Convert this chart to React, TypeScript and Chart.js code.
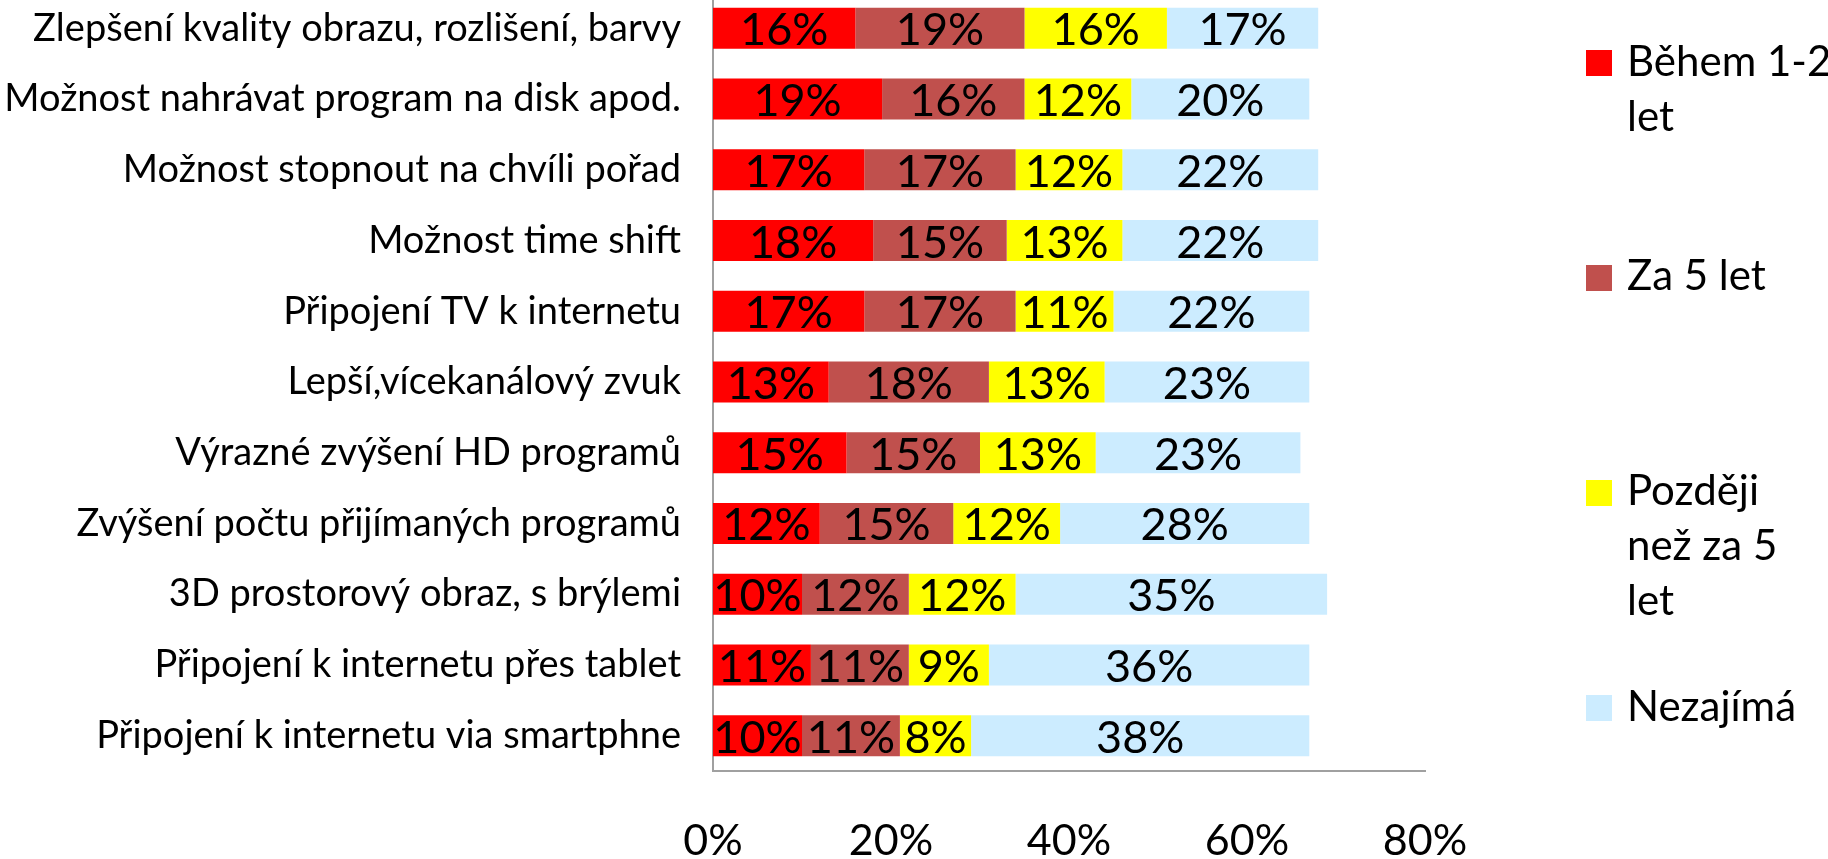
import React, { useEffect, useRef } from "react";
import { Chart, registerables } from "chart.js";

Chart.register(...registerables);

const categories = [
  "Zlepšení kvality obrazu, rozlišení, barvy",
  "Možnost nahrávat program na disk apod.",
  "Možnost stopnout na chvíli pořad",
  "Možnost time shift",
  "Připojení TV k internetu",
  "Lepší,vícekanálový zvuk",
  "Výrazné zvýšení HD programů",
  "Zvýšení počtu přijímaných programů",
  "3D prostorový obraz, s brýlemi",
  "Připojení k internetu přes tablet",
  "Připojení k internetu via smartphne",
];

const seriesNames = ["Během 1-2 let", "Za 5 let", "Později než za 5 let", "Nezajímá"];
const legendLines = [["Během 1-2", "let"], ["Za 5 let"], ["Později", "než za 5", "let"], ["Nezajímá"]];

const within12 = [16, 19, 17, 18, 17, 13, 15, 12, 10, 11, 10];
const in5 = [19, 16, 17, 15, 17, 18, 15, 15, 12, 11, 11];
const later = [16, 12, 12, 13, 11, 13, 13, 12, 12, 9, 8];
const notInterested = [17, 20, 22, 22, 22, 23, 23, 28, 35, 36, 38];

const seriesColors = ["#FF0000", "#C0504D", "#FFFF00", "#CCECFF"];
const xTicks = [0, 20, 40, 60, 80];

const FONT = "Lato, 'Open Sans', sans-serif";

const barLabels = {
  id: "barLabels",
  afterDatasetsDraw(chart: any) {
    const ctx = chart.ctx;
    ctx.save();
    ctx.font = `45px ${FONT}`;
    ctx.fillStyle = "#000000";
    ctx.textAlign = "center";
    ctx.textBaseline = "alphabetic";
    chart.data.datasets.forEach((ds: any, di: number) => {
      const meta = chart.getDatasetMeta(di);
      meta.data.forEach((el: any, i: number) => {
        const p = el.getProps(["x", "y", "base"], true);
        ctx.fillText(ds.data[i] + "%", (p.x + p.base) / 2, p.y + 17);
      });
    });
    ctx.restore();
  },
};

export default function App() {
  const ref = useRef<HTMLCanvasElement>(null);

  useEffect(() => {
    if (!ref.current) return;
    const seriesData = [within12, in5, later, notInterested];
    const chart = new Chart(ref.current, {
      type: "bar",
      data: {
        labels: categories,
        datasets: seriesData.map((d, i) => ({
          label: seriesNames[i],
          data: d,
          backgroundColor: seriesColors[i],
          borderWidth: 0,
          barPercentage: 0.58,
          categoryPercentage: 1,
        })),
      },
      options: {
        indexAxis: "y",
        responsive: false,
        maintainAspectRatio: false,
        animation: false,
        layout: { padding: { top: 0, right: 403, bottom: 0, left: 0 } },
        plugins: { legend: { display: false }, tooltip: { enabled: false } },
        scales: {
          x: {
            stacked: true,
            min: 0,
            max: 80,
            afterBuildTicks: (s: any) => {
              s.ticks = xTicks.map((v) => ({ value: v }));
            },
            afterFit: (s: any) => {
              s.height = 88;
            },
            ticks: {
              callback: (v: any) => v + "%",
              color: "#000000",
              font: { family: FONT, size: 43 },
              padding: 36,
              maxRotation: 0,
            },
            grid: { display: false },
            border: { display: true, color: "#A0A0A0", width: 2 },
          },
          y: {
            stacked: true,
            afterFit: (s: any) => {
              s.width = 713;
              s.paddingTop = 0;
              s.paddingBottom = 0;
            },
            ticks: {
              color: "#000000",
              font: { family: FONT, size: 38 },
              padding: 24,
              autoSkip: false,
            },
            grid: { display: false },
            border: { display: true, color: "#A0A0A0", width: 2 },
          },
        },
      },
      plugins: [barLabels],
    });
    return () => chart.destroy();
  }, []);

  const legendTops = [33, 247, 462, 678];
  const squareTops = [50, 265, 480, 695];

  return (
    <div style={{ position: "absolute", left: 0, top: 0, width: 1828, height: 859, overflow: "hidden", background: "#fff" }}>
      <canvas ref={ref} width={1828} height={866} style={{ position: "absolute", left: 0, top: -7, width: 1828, height: 866 }} />
      {legendLines.map((lines, i) => (
        <div key={i}>
          <div
            style={{
              position: "absolute",
              left: 1586,
              top: squareTops[i],
              width: 26,
              height: 26,
              background: seriesColors[i],
            }}
          />
          <div
            style={{
              position: "absolute",
              left: 1627,
              top: legendTops[i],
              fontFamily: FONT,
              fontSize: 42,
              lineHeight: "55px",
              color: "#000",
              whiteSpace: "nowrap",
            }}
          >
            {lines.map((l, j) => (
              <div key={j}>{l}</div>
            ))}
          </div>
        </div>
      ))}
    </div>
  );
}
